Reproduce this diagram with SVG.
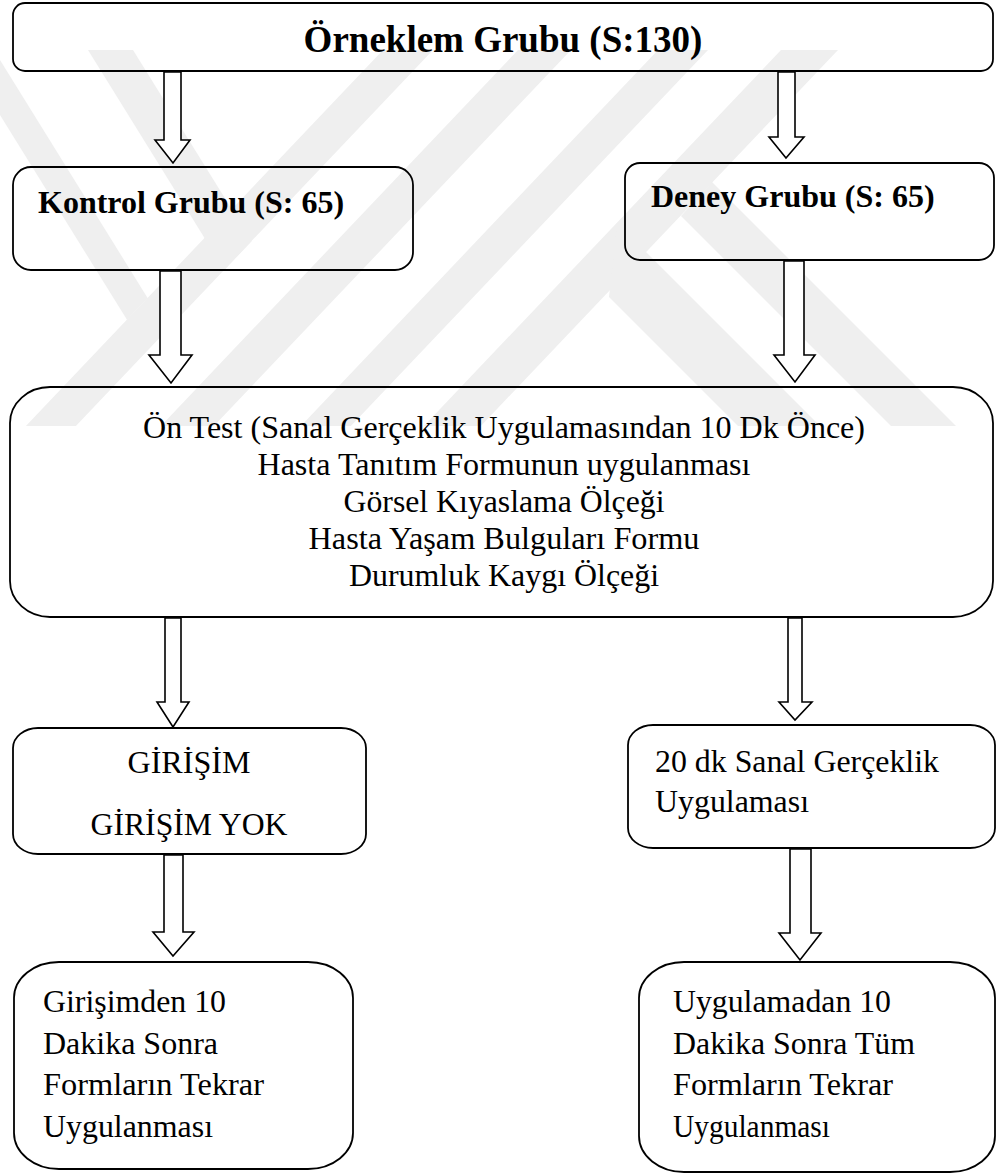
<svg xmlns="http://www.w3.org/2000/svg" width="997" height="1175" viewBox="0 0 997 1175">
<defs>
<style>
.box{fill:none;stroke:#000;stroke-width:1.8}
.arr{fill:#fff;stroke:#000;stroke-width:1.6;stroke-linejoin:miter}
.wm{fill:#efefef;stroke:none}
.tb{font-family:"Liberation Serif","Times New Roman",Tinos,"DejaVu Serif",serif;font-weight:700;fill:#000}
.tr{font-family:"Liberation Serif","Times New Roman",Tinos,"DejaVu Serif",serif;font-weight:400;font-style:normal;font-size:32px;fill:#000}
</style>
<clipPath id="wmclip"><rect x="0" y="50" width="997" height="376"/></clipPath>
</defs>
<rect width="997" height="1175" fill="#fff"/>
<g id="watermark" clip-path="url(#wmclip)">
<polygon class="wm" points="383,50 433,50 74,428 24,428"/>
<polygon class="wm" points="518,50 571,50 212,428 159,428"/>
<polygon class="wm" points="658,50 708,50 349,428 299,428"/>
<polygon class="wm" points="781,50 838,50 479,428 422,428"/>
<polygon class="wm" points="617,223 822,428 740,428 609,297"/>
<polygon class="wm" points="712,182 958,428 893,428 681,216"/>
<polygon class="wm" points="88,50 133,50 251.6,241.2 224.3,269.9"/>
<polygon class="wm" points="0,60 147.6,298 127,319.8 0,115"/>
</g>
<g id="connectors">
<polygon class="arr" points="164,72 181,72 181,140 190,140 173,163 155,140 164,140"/>
<polygon class="arr" points="778,72 795,72 795,137 804,137 786,158 769,137 778,137"/>
<polygon class="arr" points="160,271 181,271 181,355 192,355 171,383 149,355 160,355"/>
<polygon class="arr" points="784,261 804,261 804,355 815,355 795,382 774,355 784,355"/>
<polygon class="arr" points="165,618 181,618 181,702 189,702 173,727 157,702 165,702"/>
<polygon class="arr" points="788,618 802,618 802,702 812,702 795,720 779,702 788,702"/>
<polygon class="arr" points="164,855 183,855 183,932 194,932 173,956 153,932 164,932"/>
<polygon class="arr" points="790,849 811,849 811,933 821,933 800,960 779,933 790,933"/>
</g>
<g id="node-orneklem">
<rect class="box" x="13" y="3" width="980" height="68" rx="12" ry="12"/>
<text class="tb" x="503" y="52" font-size="37" text-anchor="middle">Örneklem Grubu (S:130)</text>
</g>
<g id="node-kontrol">
<rect class="box" x="13" y="167" width="400" height="103" rx="18" ry="18"/>
<text class="tb" x="38" y="213" font-size="32">Kontrol Grubu (S: 65)</text>
</g>
<g id="node-deney">
<rect class="box" x="625" y="163" width="369" height="97" rx="15" ry="15"/>
<text class="tb" x="651" y="207" font-size="32">Deney Grubu (S: 65)</text>
</g>
<g id="node-ontest">
<rect class="box" x="10" y="387" width="983" height="230" rx="40" ry="36"/>
<text class="tr" x="504" y="438" text-anchor="middle" textLength="722" lengthAdjust="spacingAndGlyphs">Ön Test (Sanal Gerçeklik Uygulamasından 10 Dk Önce)</text>
<text class="tr" x="504" y="475" text-anchor="middle" textLength="493" lengthAdjust="spacingAndGlyphs">Hasta Tanıtım Formunun uygulanması</text>
<text class="tr" x="504" y="512" text-anchor="middle" textLength="321" lengthAdjust="spacingAndGlyphs">Görsel Kıyaslama Ölçeği</text>
<text class="tr" x="504" y="549" text-anchor="middle" textLength="391" lengthAdjust="spacingAndGlyphs">Hasta Yaşam Bulguları Formu</text>
<text class="tr" x="504" y="586" text-anchor="middle" textLength="310" lengthAdjust="spacingAndGlyphs">Durumluk Kaygı Ölçeği</text>
</g>
<g id="node-girisim">
<rect class="box" x="13" y="728" width="353" height="126" rx="25" ry="20"/>
<text class="tr" x="189" y="773" text-anchor="middle" textLength="123" lengthAdjust="spacingAndGlyphs">GİRİŞİM</text>
<text class="tr" x="189" y="835" text-anchor="middle" textLength="197" lengthAdjust="spacingAndGlyphs">GİRİŞİM YOK</text>
</g>
<g id="node-sanal">
<rect class="box" x="628" y="725" width="367" height="123" rx="25" ry="20"/>
<text class="tr" x="655" y="772" textLength="284" lengthAdjust="spacingAndGlyphs">20 dk Sanal Gerçeklik</text>
<text class="tr" x="655" y="812" textLength="154" lengthAdjust="spacingAndGlyphs">Uygulaması</text>
</g>
<g id="node-sonra-kontrol">
<rect class="box" x="14" y="962" width="339" height="207" rx="45" ry="36"/>
<text class="tr" x="43" y="1012" textLength="183" lengthAdjust="spacingAndGlyphs">Girişimden 10</text>
<text class="tr" x="43" y="1054" textLength="175" lengthAdjust="spacingAndGlyphs">Dakika Sonra</text>
<text class="tr" x="43" y="1095" textLength="221" lengthAdjust="spacingAndGlyphs">Formların Tekrar</text>
<text class="tr" x="43" y="1137" textLength="170" lengthAdjust="spacingAndGlyphs">Uygulanması</text>
</g>
<g id="node-sonra-deney">
<rect class="box" x="639" y="962" width="356" height="210" rx="45" ry="36"/>
<text class="tr" x="673" y="1012" textLength="218" lengthAdjust="spacingAndGlyphs">Uygulamadan 10</text>
<text class="tr" x="673" y="1054" textLength="242" lengthAdjust="spacingAndGlyphs">Dakika Sonra Tüm</text>
<text class="tr" x="673" y="1095" textLength="220" lengthAdjust="spacingAndGlyphs">Formların Tekrar</text>
<text class="tr" x="673" y="1137" textLength="157" lengthAdjust="spacingAndGlyphs">Uygulanması</text>
</g>
</svg>
